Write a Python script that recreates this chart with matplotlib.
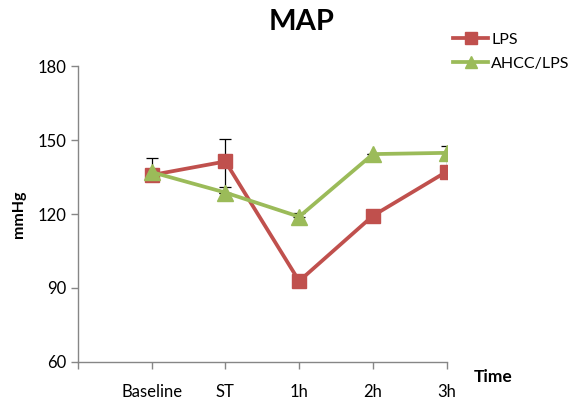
import matplotlib.pyplot as plt

categories = ["Baseline", "ST", "1h", "2h", "3h"]
lps = [135.8, 141.3, 92.8, 119.3, 137.2]
lps_err_up = [7.0, 9.2, 0.0, 0.0, 10.3]
lps_err_down = [0.0, 10.5, 0.0, 0.0, 0.0]
ahcc = [137.0, 128.7, 118.9, 144.3, 144.8]
ahcc_err_up = [0.0, 0.0, 1.5, 0.0, 0.0]

RED = "#C0504D"
GREEN = "#9BBB59"
AXIS = "#868686"

plt.rcParams["font.family"] = ["Lato", "DejaVu Sans"]

fig = plt.figure(figsize=(5.72, 4.01), dpi=100)
ax = fig.add_axes([0.136, 0.0973, 0.645, 0.738])

x = list(range(1, len(categories) + 1))

ax.errorbar(x, lps, yerr=[lps_err_down, lps_err_up], fmt="none",
            ecolor="black", elinewidth=0.9, capsize=4.5, capthick=0.9, zorder=2)
ax.errorbar(x, ahcc, yerr=[[0] * len(x), ahcc_err_up], fmt="none",
            ecolor="black", elinewidth=0.9, capsize=4.5, capthick=0.9, zorder=2)
ax.plot(x, lps, color=RED, linewidth=2.7, marker="s", markersize=10,
        markeredgecolor=RED, label="LPS", zorder=3)
ax.plot(x, ahcc, color=GREEN, linewidth=2.7, marker="^", markersize=11,
        markeredgecolor=GREEN, label="AHCC/LPS", zorder=4)

ax.set_xlim(0, 5)
ax.set_ylim(60, 180)
ax.set_yticks([60, 90, 120, 150, 180])
ax.set_xticks([0] + x)
ax.set_xticklabels([""] + categories)

for side in ["top", "right"]:
    ax.spines[side].set_visible(False)
for side in ["left", "bottom"]:
    ax.spines[side].set_color(AXIS)
    ax.spines[side].set_linewidth(1.0)
ax.tick_params(axis="both", colors=AXIS, labelcolor="black", labelsize=12,
               length=5, width=1.0)
ax.tick_params(axis="x", pad=11)

ax.set_ylabel("mmHg", fontsize=11.5, fontweight="bold", labelpad=8)
fig.text(0.828, 0.06, "Time", fontsize=12.5, fontweight="bold",
         ha="left", va="center")
fig.text(0.528, 0.945, "MAP", fontsize=21, fontweight="bold",
         ha="center", va="center")

ax.legend(loc="upper left", bbox_to_anchor=(0.792, 0.918), bbox_transform=fig.transFigure,
          frameon=False, fontsize=11.5, handlelength=2.2, handletextpad=0.2,
          labelspacing=0.6, borderpad=0.0, borderaxespad=0.0, markerscale=0.8)

fig.savefig("out.png", dpi=100)
